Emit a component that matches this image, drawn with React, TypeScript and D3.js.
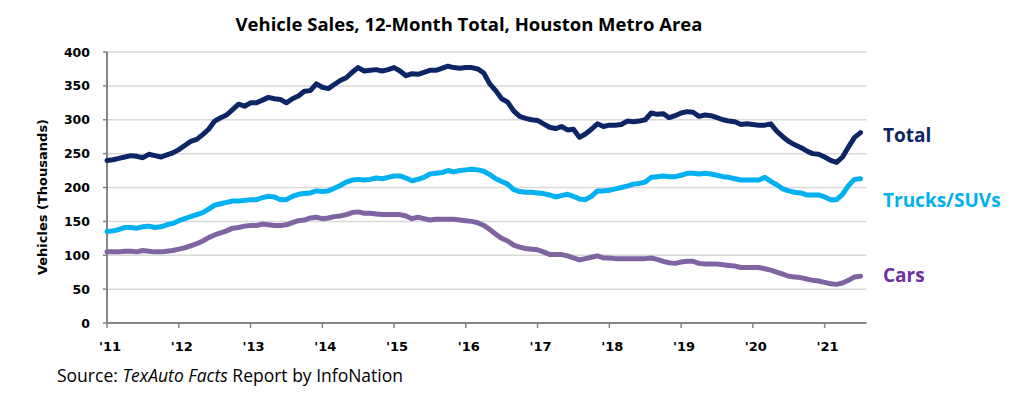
import React from 'react';
import * as d3 from 'd3';

// monthly 12-month totals, Jan 2011 .. Jul 2021 (thousands)
const yearLabels = ["'11", "'12", "'13", "'14", "'15", "'16", "'17", "'18", "'19", "'20", "'21"];
const yTicks = [0, 50, 100, 150, 200, 250, 300, 350, 400];

const totalSales = [
  240, 241, 243, 245, 247, 246, 244, 249, 247, 245, 248, 251,
  256, 262, 268, 271, 278, 286, 298, 303, 307, 315, 323, 320,
  325, 325, 329, 333, 331, 330, 325, 331, 335, 342, 343, 353,
  348, 346, 352, 358, 362, 370, 377, 372, 373, 374, 372, 374,
  377, 372, 365, 368, 367, 370, 373, 373, 376, 379, 377, 376,
  377, 377, 375, 369, 353, 343, 331, 326, 313, 305, 302, 300,
  299, 294, 289, 287, 290, 285, 286, 274, 279, 286, 294, 290,
  292, 292, 293, 298, 297, 298, 300, 310, 308, 309, 303, 306,
  310, 312, 311, 305, 307, 306, 303, 300, 298, 297, 293, 294,
  293, 292, 292, 294, 283, 275, 268, 263, 259, 254, 250, 249,
  245, 240, 237, 245, 260, 274, 281,
];

const truckSales = [
  135, 136, 138, 141, 141, 140, 142, 143, 141, 142, 145, 147,
  151, 154, 157, 160, 163, 168, 174, 176, 178, 180, 180, 181,
  182, 182, 185, 187, 186, 182, 182, 187, 190, 191, 192, 195,
  194, 195, 199, 203, 208, 211, 212, 211, 212, 214, 213, 215,
  217, 217, 214, 210, 212, 215, 220, 221, 222, 225, 223, 225,
  226, 227, 226, 224, 219, 213, 209, 205, 197, 194, 193, 193,
  192, 191, 189, 186, 188, 190, 187, 183, 182, 187, 195, 195,
  196, 198, 200, 202, 205, 206, 208, 215, 216, 217, 216, 216,
  218, 221, 221, 220, 221, 220, 218, 216, 215, 213, 211, 211,
  211, 211, 215, 209, 204, 198, 195, 193, 192, 189, 189, 189,
  186, 182, 182, 190, 203, 212, 213,
];

const carSales = [
  105, 105, 105, 106, 106, 105, 107, 106, 105, 105, 106, 107,
  109, 111, 114, 117, 121, 126, 130, 133, 136, 140, 141, 143,
  144, 144, 146, 145, 144, 144, 145, 148, 151, 152, 155, 156,
  154, 155, 157, 158, 160, 163, 164, 162, 162, 161, 160, 160,
  160, 160, 158, 154, 156, 154, 152, 153, 153, 153, 153, 152,
  151, 150, 148, 144, 138, 131, 125, 121, 115, 112, 110, 109,
  108, 105, 101, 101, 101, 99, 96, 93, 95, 97, 99, 96,
  96, 95, 95, 95, 95, 95, 95, 96, 94, 91, 89, 88,
  90, 91, 91, 88, 87, 87, 87, 86, 85, 84, 82, 82,
  82, 82, 80, 78, 75, 72, 69, 68, 67, 65, 63, 62,
  60, 58, 57, 59, 63, 68, 69,
];

const series = [
  { name: 'Total', values: totalSales, line: '#0b2565', label: '#0b2565', labelY: 142 },
  { name: 'Trucks/SUVs', values: truckSales, line: '#00b0f0', label: '#00b0f0', labelY: 207 },
  { name: 'Cars', values: carSales, line: '#8064a2', label: '#7030a0', labelY: 282 },
];

const W = 1018;
const H = 397;
const textFont = '"Open Sans", Lato, sans-serif';
const axisFont = '"DejaVu Sans", Verdana, sans-serif';

export default function App() {
  const left = 107, right = 866.5, top = 52, bottom = 323;

  const x = d3.scaleLinear().domain([0, 127]).range([left, right]);
  const y = d3.scaleLinear().domain([0, 400]).range([bottom, top]);

  const line = d3.line<number>()
    .x((_, i) => x(i))
    .y(d => y(d));

  return (
    <svg width={W} height={H} style={{ position: 'absolute', left: 0, top: 0, background: '#fff' }}>
      <text x={469} y={31} textAnchor="middle" fontFamily={textFont} fontSize={18.5} fontWeight="bold" fill="#000">
        Vehicle Sales, 12-Month Total, Houston Metro Area
      </text>

      {yTicks.map(t => (
        <g key={t}>
          {t > 0 && <line x1={left} x2={right} y1={y(t)} y2={y(t)} stroke="#d9d9d9" strokeWidth={1.5} />}
          <line x1={left - 4} x2={left} y1={y(t)} y2={y(t)} stroke="#868686" strokeWidth={1.5} />
          <text x={90} y={y(t) + 4.5} textAnchor="end" fontFamily={axisFont} fontSize={12.5} fontWeight="bold" fill="#000">{t}</text>
        </g>
      ))}

      <line x1={left} x2={left} y1={top} y2={bottom} stroke="#868686" strokeWidth={2} />
      <line x1={left} x2={right} y1={bottom} y2={bottom} stroke="#868686" strokeWidth={2} />

      {yearLabels.map((lab, i) => (
        <g key={lab}>
          <line x1={x(i * 12)} x2={x(i * 12)} y1={bottom} y2={bottom + 5} stroke="#868686" strokeWidth={1.5} />
          <text x={x(i * 12) + 3} y={351} textAnchor="middle" fontFamily={axisFont} fontSize={13} fontWeight="bold" fill="#000">{lab}</text>
        </g>
      ))}

      <text transform={`translate(47,197) rotate(-90)`} textAnchor="middle" fontFamily={axisFont} fontSize={13} fontWeight="bold" fill="#000">
        Vehicles (Thousands)
      </text>

      {series.map(s => (
        <path key={s.name} d={line(s.values) || ''} fill="none" stroke={s.line} strokeWidth={5}
          strokeLinejoin="round" strokeLinecap="round" />
      ))}

      {series.map(s => (
        <text key={s.name + '-lab'} x={883} y={s.labelY} fontFamily={textFont} fontSize={19} fontWeight="bold" fill={s.label}>{s.name}</text>
      ))}

      <text x={57} y={382} fontFamily={textFont} fontSize={17.5} fill="#000">
        Source: <tspan fontStyle="italic">TexAuto Facts</tspan> Report by InfoNation
      </text>
    </svg>
  );
}
